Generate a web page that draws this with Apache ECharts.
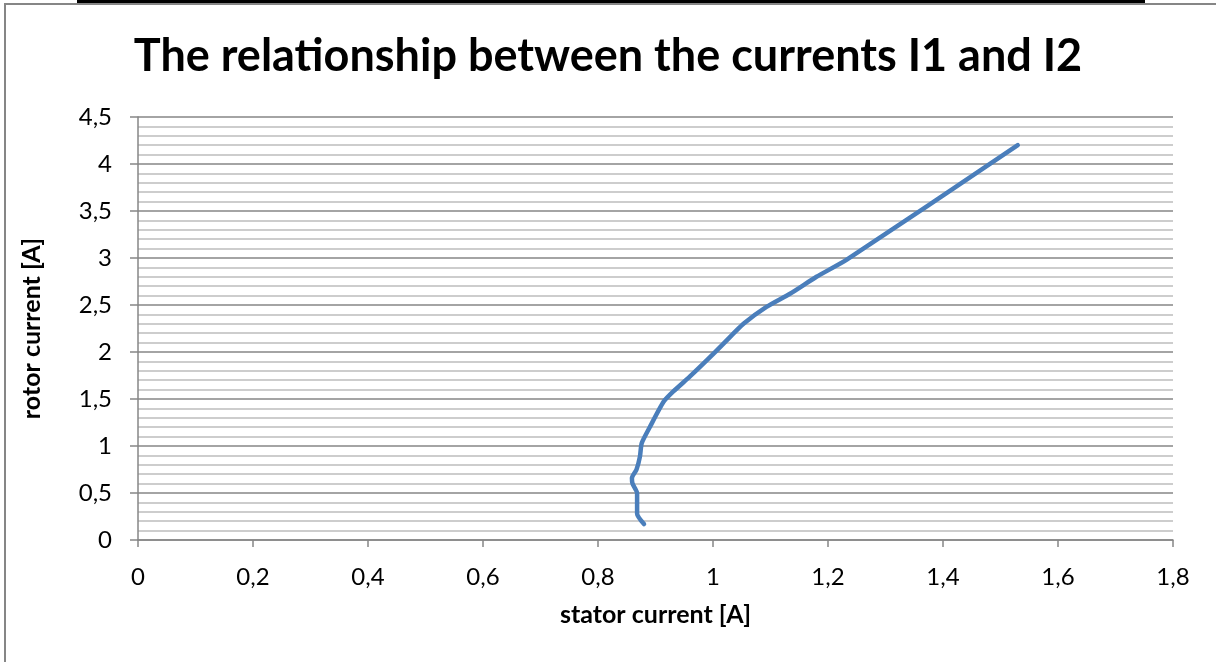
<!DOCTYPE html>
<html>
<head>
<meta charset="utf-8">
<script src="https://cdn.jsdelivr.net/npm/echarts@6/dist/echarts.min.js"></script>
<style>
html,body{margin:0;padding:0;background:#fff;}
#chart{width:1216px;height:662px;}
</style>
</head>
<body>
<div id="chart"></div>
<script>
// Data
var titleText = "The relationship between the currents I1 and I2";
var xAxisName = "stator current [A]";
var yAxisName = "rotor current [A]";
var statorCurrent = [0.880, 0.868, 0.868, 0.860, 0.859, 0.867, 0.873, 0.876, 0.890, 0.914, 0.931, 0.960, 0.989, 1.020, 1.053, 1.093, 1.134, 1.180, 1.232, 1.530];
var rotorCurrent  = [0.17,  0.28,  0.50,  0.60,  0.66,  0.75,  0.89,  1.03,  1.20,  1.47,  1.58,  1.74,  1.91,  2.10,  2.30,  2.48,  2.62,  2.80,  2.98,  4.20];
var xTicks = {min: 0, max: 1.8, step: 0.2};
var yTicks = {min: 0, max: 4.5, step: 0.5};

var pairs = statorCurrent.map(function (x, i) { return [x, rotorCurrent[i]]; });
function comma(v) { return String(Math.round(v * 10) / 10).replace('.', ','); }

var chart = echarts.init(document.getElementById('chart'), null, {renderer: 'canvas'});
var font = '"Lato", "Noto Sans", sans-serif';
chart.setOption({
  animation: false,
  backgroundColor: '#ffffff',
  title: {
    text: titleText,
    left: 'center',
    top: 29,
    textStyle: {fontFamily: font, fontWeight: 'bold', fontSize: 45, color: '#000'}
  },
  grid: {left: 138, right: 43, top: 117, bottom: 122, containLabel: false},
  xAxis: {
    type: 'value',
    min: xTicks.min, max: xTicks.max, interval: xTicks.step,
    name: xAxisName, nameLocation: 'middle', nameGap: 62,
    nameTextStyle: {fontFamily: font, fontWeight: 'bold', fontSize: 25, color: '#000'},
    axisLine: {show: true, lineStyle: {color: '#868686', width: 1.5}},
    axisTick: {show: true, inside: false, length: 7, lineStyle: {color: '#868686', width: 1.5}},
    axisLabel: {margin: 25, fontFamily: font, fontSize: 24, color: '#000', formatter: comma},
    splitLine: {show: false}
  },
  yAxis: {
    type: 'value',
    min: yTicks.min, max: yTicks.max, interval: yTicks.step,
    name: yAxisName, nameLocation: 'middle', nameGap: 94, nameRotate: 90,
    nameTextStyle: {fontFamily: font, fontWeight: 'bold', fontSize: 25, color: '#000'},
    axisLine: {show: true, lineStyle: {color: '#868686', width: 1.5}},
    axisTick: {show: true, inside: false, length: 8, lineStyle: {color: '#868686', width: 1.5}},
    axisLabel: {margin: 26, fontFamily: font, fontSize: 24, color: '#000', formatter: comma},
    splitLine: {show: true, lineStyle: {color: '#868686', width: 1.5}},
    minorTick: {show: false, splitNumber: 5},
    minorSplitLine: {show: true, lineStyle: {color: '#bdbdbd', width: 1.5}}
  },
  series: [{
    type: 'line',
    data: pairs,
    showSymbol: false,
    smooth: 0.2,
    lineStyle: {color: '#4a7ebb', width: 4.5, cap: 'round', join: 'round'},
    itemStyle: {color: '#4a7ebb'}
  }],
  graphic: [
    {type: 'rect', shape: {x: 77, y: 0, width: 1068, height: 3}, style: {fill: '#000'}, z: 100},
    {type: 'polyline', shape: {points: [[5, 662], [5, 4], [1216, 4]]}, style: {stroke: '#868686', lineWidth: 2, fill: null}, z: 100}
  ]
});
</script>
</body>
</html>
